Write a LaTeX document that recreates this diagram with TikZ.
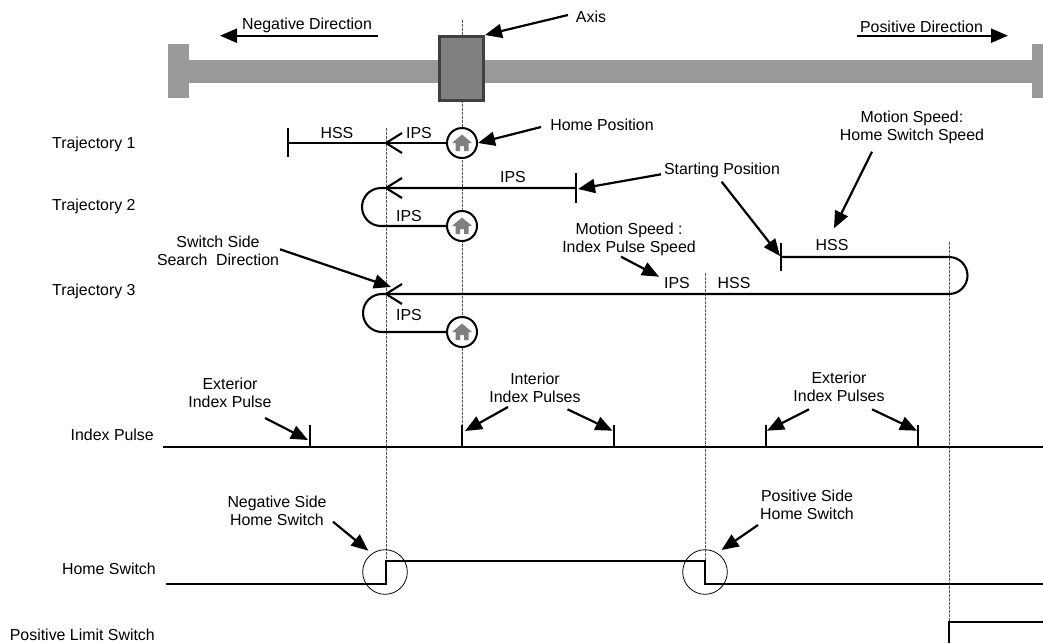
\documentclass[tikz,border=0pt]{standalone}
\usepackage{fontspec}
\setmainfont{Liberation Sans}
\usetikzlibrary{arrows.meta}
\definecolor{barc}{HTML}{999999}
\definecolor{boxc}{HTML}{808080}
\definecolor{boxb}{HTML}{404040}
\definecolor{guidec}{HTML}{555555}
\definecolor{housec}{HTML}{7F7F7F}
\begin{document}
\begin{tikzpicture}[x=1pt,y=-1pt,
  font=\fontsize{15.9}{18}\selectfont,
  lbl/.style={inner sep=0pt, align=center},
  traj/.style={line width=2.1pt, line join=round},
  sig/.style={line width=2.3pt, line join=miter},
  note/.style={line width=2.2pt, -{Triangle[length=17pt,width=14pt]}},
  guide/.style={line width=0.9pt, guidec, dash pattern=on 2.5pt off 1.5pt},
  homec/.style={circle, draw, line width=2pt, fill=white, minimum size=30pt, inner sep=0pt},
  swc/.style={circle, draw, line width=0.8pt, minimum size=44.6pt, inner sep=0pt},
  house/.pic={\fill[housec] (-10,0) -- (0,-8.5) -- (10,0) -- (6.5,0) -- (6.5,8) -- (2,8) -- (2,3) -- (-2,3) -- (-2,8) -- (-6.5,8) -- (-6.5,0) -- cycle;}
]
\useasboundingbox (0,0) rectangle (1043,643);

% axis bar
\fill[barc] (168,44) rectangle (189,98);
\fill[barc] (189,60) rectangle (1032,83);
\fill[barc] (1032,44) rectangle (1043,98);

% guide lines
\draw[guide] (462,20) -- (462,425);
\draw[guide] (386,128) -- (386,560.7);
\draw[guide] (705,273) -- (705,584);
\draw[guide] (949,242) -- (949,621.7);

% axis box
\node[draw=boxb, fill=boxc, line width=3pt, minimum width=44pt, minimum height=64pt, inner sep=0pt] (axisbox) at (461.5,68.5) {};

% direction arrows
\node[lbl] (negt) at (307,25.7) {Negative Direction};
\coordinate (negs) at (378,35.7);
\coordinate (nege) at (220,35.7);
\draw[note] (negs) -- (nege);
\node[lbl] (post) at (921.5,26.7) {Positive Direction};
\coordinate (poss) at (857,35.7);
\coordinate (pose) at (1008,35.7);
\draw[note] (poss) -- (pose);
\node[lbl] (axist) at (591,17) {Axis};
\coordinate (axiss) at (568,15);
\draw[note] (axiss) -- (axisbox.north east);

% row labels
\node[lbl, anchor=west] (t1) at (52,144) {Trajectory 1};
\node[lbl, anchor=west] (t2) at (52,206) {Trajectory 2};
\node[lbl, anchor=west] (t3) at (52,291) {Trajectory 3};
\node[lbl, anchor=east] (ipl) at (154,435) {Index Pulse};
\node[lbl, anchor=east] (hsl) at (156,569) {Home Switch};
\node[lbl, anchor=east] (pll) at (155,635) {Positive Limit Switch};

% home circles
\node[homec] (h1) at (462,143) {};
\node[homec] (h2) at (462,226) {};
\node[homec] (h3) at (462,332) {};
\pic at (462,143) {house};
\pic at (462,226) {house};
\pic at (462,332) {house};

% trajectory 1
\draw[traj] (h1.west) -- (288,143);
\draw[traj] (288,128) -- (288,157);
\draw[traj] (402,133) -- (386,143) -- (402,153);
\node[lbl] (hss1) at (337,133) {HSS};
\node[lbl] (ips1) at (419,133) {IPS};

% trajectory 2
\draw[traj] (576,188) -- (381,188) arc[start angle=-90, end angle=-270, radius=19] -- (h2.west);
\draw[traj] (576,173) -- (576,203);
\draw[traj] (402,178) -- (386,188) -- (402,198);
\node[lbl] (ips2a) at (513,177) {IPS};
\node[lbl] (ips2b) at (409,216) {IPS};

% trajectory 3
\draw[traj] (781,257) -- (949,257) arc[start angle=-90, end angle=90, radius=18.5] -- (382,294) arc[start angle=-90, end angle=-270, radius=19] -- (h3.west);
\draw[traj] (781,243) -- (781,271);
\draw[traj] (402,284) -- (386,294) -- (402,304);
\node[lbl] (hss3a) at (832,245) {HSS};
\node[lbl] (ips3a) at (677,283) {IPS};
\node[lbl] (hss3b) at (734,283) {HSS};
\node[lbl] (ips3b) at (409,315) {IPS};

% annotations, trajectories
\node[lbl] (homep) at (602,125) {Home Position};
\coordinate (homes) at (541,127);
\draw[note] (homes) -- (h1.east);
\node[lbl] (startp) at (722,170) {Starting Position};
\coordinate (st1s) at (661,174.3);
\coordinate (st1e) at (578,189);
\coordinate (st2s) at (721.6,181.7);
\coordinate (st2e) at (780,256);
\draw[note] (st1s) -- (st1e);
\draw[note] (st2s) -- (st2e);
\node[lbl] (mshss) at (912,127.5) {Motion Speed:\\Home Switch Speed};
\coordinate (mhs) at (872,151.7);
\coordinate (mhe) at (834,228.3);
\draw[note] (mhs) -- (mhe);
\node[lbl] (msips) at (629,239) {Motion Speed :\\Index Pulse Speed};
\coordinate (mis) at (621,256.7);
\coordinate (mie) at (659,276.7);
\draw[note] (mis) -- (mie);
\node[lbl] (ssd) at (218,251) {Switch Side\\Search\ \ Direction};
\coordinate (sss) at (280,249.3);
\coordinate (sse) at (391,287);
\draw[note] (sss) -- (sse);

% index pulse
\draw[sig] (163,447) -- (1043,447);
\foreach \x in {310,462,614,766,918} \draw[sig] (\x,425) -- (\x,447);
\node[lbl] (exl) at (230,392.5) {Exterior\\Index Pulse};
\coordinate (exls) at (265,418);
\coordinate (exle) at (308,440);
\draw[note] (exls) -- (exle);
\node[lbl] (inl) at (535,388) {Interior\\Index Pulses};
\coordinate (in1s) at (508,407);
\coordinate (in1e) at (465,431);
\coordinate (in2s) at (567.5,409.3);
\coordinate (in2e) at (612.5,430.7);
\draw[note] (in1s) -- (in1e);
\draw[note] (in2s) -- (in2e);
\node[lbl] (exr) at (839,387) {Exterior\\Index Pulses};
\coordinate (ex1s) at (809,409.3);
\coordinate (ex1e) at (767,430.7);
\coordinate (ex2s) at (872,409.3);
\coordinate (ex2e) at (917,430.7);
\draw[note] (ex1s) -- (ex1e);
\draw[note] (ex2s) -- (ex2e);

% home switch
\draw[sig] (166,584) -- (386,584) -- (386,560.7) -- (705,560.7) -- (705,584) -- (1043,584);
\node[swc] (sw1) at (385,572) {};
\node[swc] (sw2) at (705,572) {};
\node[lbl] (nsl) at (277,510.5) {Negative Side\\Home Switch};
\coordinate (nss) at (333,521.7);
\coordinate (nse) at (368.3,550.7);
\draw[note] (nss) -- (nse);
\node[lbl] (psl) at (807,505) {Positive Side\\Home Switch};
\coordinate (pss) at (758,525);
\coordinate (pse) at (721.6,550);
\draw[note] (pss) -- (pse);

% positive limit switch
\draw[sig] (949,643) -- (949,621.7) -- (1043,621.7);
\end{tikzpicture}
\end{document}
